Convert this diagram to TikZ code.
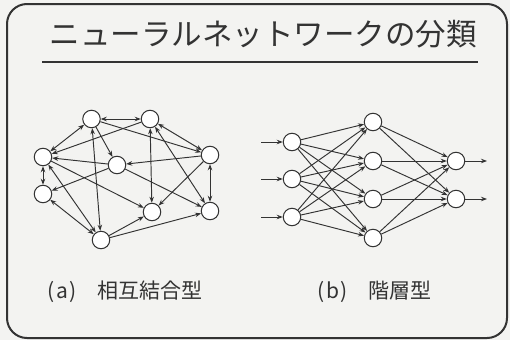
\documentclass[tikz,border=0pt]{standalone}
\usepackage{fontspec}
\setmainfont{Noto Sans CJK JP}
\usetikzlibrary{arrows.meta}
\definecolor{ink}{HTML}{333333}
\definecolor{paper}{HTML}{F3F3F1}
\begin{document}
\begin{tikzpicture}[x=1pt,y=-1pt,
  neuron/.style={circle,draw=ink,line width=1pt,fill=white,minimum size=17.5pt,inner sep=0pt},
  link/.style={draw=ink,line width=0.95pt,-{Stealth[length=6pt,width=4.5pt]}},
  biarrow/.style={draw=ink,line width=0.95pt,{Stealth[length=6pt,width=4.5pt]}-{Stealth[length=6pt,width=4.5pt]}},
  label/.style={text=ink,font=\fontsize{21}{24}\selectfont},
]
\useasboundingbox (0,0) rectangle (510,340);
\fill[paper] (0,0) rectangle (510,340);
\draw[ink,line width=2pt,rounded corners=20pt] (7,4) rectangle (507,338);
% title
\node[text=ink,font=\fontsize{30.5}{34}\selectfont,inner sep=0pt] (title) at (263,34) {ニューラルネットワークの分類};
\draw[ink,line width=1.5pt] (42,62) -- (478,62);
% (a) mutually connected
\node[neuron] (A) at (91.5,119) {};
\node[neuron] (B) at (150,119) {};
\node[neuron] (L1) at (43,157) {};
\node[neuron] (C) at (117,165) {};
\node[neuron] (R1) at (210,155) {};
\node[neuron] (L2) at (43,194) {};
\node[neuron] (D) at (152,212) {};
\node[neuron] (R2) at (210,211) {};
\node[neuron] (E) at (101,240) {};
\draw[biarrow] (A) -- (B);
\draw[biarrow] (A) -- (L1);
\draw[biarrow] (A) -- (E);
\draw[link] (A) -- (C);
\draw[link] (A) -- (R1);
\draw[link] (B) -- (L1);
\draw[biarrow] (B) -- (D);
\draw[biarrow] (B) -- (R1);
\draw[biarrow] (B) -- (R2);
\draw[biarrow] (L1) -- (L2);
\draw[link] (C) -- (L1);
\draw[link] (L1) -- (D);
\draw[biarrow] (L1) -- (E);
\draw[link] (C) -- (L2);
\draw[link] (R1) -- (C);
\draw[link] (C) -- (R2);
\draw[biarrow] (R1) -- (R2);
\draw[link] (R1) -- (D);
\draw[biarrow] (L2) -- (E);
\draw[link] (E) -- (D);
\draw[link] (E) -- (R2);
% (b) layered
\node[neuron] (I1) at (292,142) {};
\node[neuron] (I2) at (292,179) {};
\node[neuron] (I3) at (292,217) {};
\node[neuron] (H1) at (373,122) {};
\node[neuron] (H2) at (373,161) {};
\node[neuron] (H3) at (373,199) {};
\node[neuron] (H4) at (373,238) {};
\node[neuron] (O1) at (456,161) {};
\node[neuron] (O2) at (456,199) {};
\coordinate (in1) at (261,142);
\coordinate (in2) at (261,179);
\coordinate (in3) at (261,217);
\coordinate (out1) at (487,161);
\coordinate (out2) at (487,199);
\draw[link] (in1) -- (I1);
\draw[link] (in2) -- (I2);
\draw[link] (in3) -- (I3);
\foreach \i in {I1,I2,I3}{
  \foreach \h in {H1,H2,H3,H4}{
    \draw[link] (\i) -- (\h);
  }
}
\foreach \h in {H1,H2,H3,H4}{
  \foreach \o in {O1,O2}{
    \draw[link] (\h) -- (\o);
  }
}
\draw[link] (O1) -- (out1);
\draw[link] (O2) -- (out2);
% captions
\node[label] (capa) at (125.5,292) {(\kern1.5pt a\kern1.5pt)\hspace{1em}相互結合型};
\node[label] (capb) at (374.5,292) {(\kern1.5pt b\kern1.5pt)\hspace{1em}階層型};
\end{tikzpicture}
\end{document}
